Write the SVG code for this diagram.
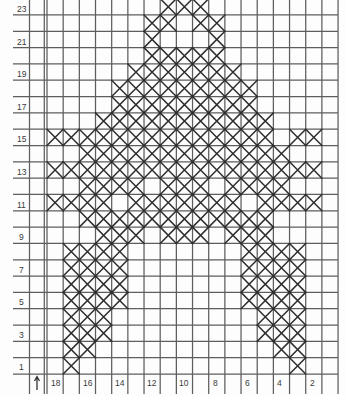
<svg xmlns="http://www.w3.org/2000/svg" xmlns:xlink="http://www.w3.org/1999/xlink" width="346" height="396" viewBox="0 0 346 396">
<style>
.g{stroke:#5e5e5e;stroke-width:1.25;fill:none}
.xs{stroke:#2e2e2e;stroke-width:1.5;fill:none;stroke-linecap:round}
.lab{font-family:"Liberation Sans",Arial,sans-serif;font-size:8.5px;fill:#3a3a3a}
</style>
<defs>
<path id="x" d="M0,0 L16.17,16.32 M16.17,0 L0,16.32"/>
</defs>
<rect width="346" height="396" fill="#fdfdfd"/>
<g id="grid" class="g">
<path d="M13,374H338 M13,357.68H338 M13,341.36H338 M13,325.04H338 M13,308.72H338 M13,292.4H338 M13,276.08H338 M13,259.76H338 M13,243.44H338 M13,227.12H338 M13,210.8H338 M13,194.48H338 M13,178.16H338 M13,161.84H338 M13,145.52H338 M13,129.2H338 M13,112.88H338 M13,96.56H338 M13,80.24H338 M13,63.92H338 M13,47.6H338 M13,31.28H338 M13,14.96H338"/>
<path d="M29.5,0V394 M44.3,0V394 M47,0V394 M63.17,0V394 M79.34,0V394 M95.51,0V394 M111.68,0V394 M127.85,0V394 M144.02,0V394 M160.19,0V394 M176.36,0V394 M192.53,0V394 M208.7,0V394 M224.87,0V394 M241.04,0V394 M257.21,0V394 M273.38,0V394 M289.55,0V394 M305.72,0V394 M321.89,0V394 M338.06,0V394"/>
</g>
<g id="row-labels" class="lab">
<text x="17" y="12">23</text>
<text x="17" y="45">21</text>
<text x="17" y="77">19</text>
<text x="17" y="110">17</text>
<text x="17" y="142">15</text>
<text x="17" y="175">13</text>
<text x="17" y="208">11</text>
<text x="19" y="240">9</text>
<text x="19" y="273">7</text>
<text x="19" y="305">5</text>
<text x="19" y="338">3</text>
<text x="19" y="370">1</text>
</g>
<g id="column-labels" class="lab">
<path d="M37,390V377 M34.5,381L37,376.5L39.5,381" stroke="#333" stroke-width="1.3" fill="none"/>
<text x="51" y="386">18</text>
<text x="83" y="386">16</text>
<text x="115" y="386">14</text>
<text x="147" y="386">12</text>
<text x="179" y="386">10</text>
<text x="213" y="386">8</text>
<text x="245" y="386">6</text>
<text x="277" y="386">4</text>
<text x="310" y="386">2</text>
</g>
<g id="stitches" class="xs">
<g id="row23"><use href="#x" x="160.19" y="-1.36"/><use href="#x" x="176.36" y="-1.36"/><use href="#x" x="192.53" y="-1.36"/></g>
<g id="row22"><use href="#x" x="144.02" y="14.96"/><use href="#x" x="160.19" y="14.96"/><use href="#x" x="192.53" y="14.96"/><use href="#x" x="208.7" y="14.96"/></g>
<g id="row21"><use href="#x" x="144.02" y="31.28"/><use href="#x" x="208.7" y="31.28"/></g>
<g id="row20"><use href="#x" x="144.02" y="47.6"/><use href="#x" x="160.19" y="47.6"/><use href="#x" x="176.36" y="47.6"/><use href="#x" x="192.53" y="47.6"/><use href="#x" x="208.7" y="47.6"/></g>
<g id="row19"><use href="#x" x="127.85" y="63.92"/><use href="#x" x="144.02" y="63.92"/><use href="#x" x="160.19" y="63.92"/><use href="#x" x="176.36" y="63.92"/><use href="#x" x="192.53" y="63.92"/><use href="#x" x="208.7" y="63.92"/><use href="#x" x="224.87" y="63.92"/></g>
<g id="row18"><use href="#x" x="111.68" y="80.24"/><use href="#x" x="127.85" y="80.24"/><use href="#x" x="144.02" y="80.24"/><use href="#x" x="160.19" y="80.24"/><use href="#x" x="176.36" y="80.24"/><use href="#x" x="192.53" y="80.24"/><use href="#x" x="208.7" y="80.24"/><use href="#x" x="224.87" y="80.24"/><use href="#x" x="241.04" y="80.24"/></g>
<g id="row17"><use href="#x" x="111.68" y="96.56"/><use href="#x" x="127.85" y="96.56"/><use href="#x" x="144.02" y="96.56"/><use href="#x" x="160.19" y="96.56"/><use href="#x" x="176.36" y="96.56"/><use href="#x" x="192.53" y="96.56"/><use href="#x" x="208.7" y="96.56"/><use href="#x" x="224.87" y="96.56"/><use href="#x" x="241.04" y="96.56"/></g>
<g id="row16"><use href="#x" x="95.51" y="112.88"/><use href="#x" x="111.68" y="112.88"/><use href="#x" x="127.85" y="112.88"/><use href="#x" x="144.02" y="112.88"/><use href="#x" x="160.19" y="112.88"/><use href="#x" x="176.36" y="112.88"/><use href="#x" x="192.53" y="112.88"/><use href="#x" x="208.7" y="112.88"/><use href="#x" x="224.87" y="112.88"/><use href="#x" x="241.04" y="112.88"/><use href="#x" x="257.21" y="112.88"/></g>
<g id="row15"><use href="#x" x="47" y="129.2"/><use href="#x" x="63.17" y="129.2"/><use href="#x" x="79.34" y="129.2"/><use href="#x" x="95.51" y="129.2"/><use href="#x" x="111.68" y="129.2"/><use href="#x" x="127.85" y="129.2"/><use href="#x" x="144.02" y="129.2"/><use href="#x" x="160.19" y="129.2"/><use href="#x" x="176.36" y="129.2"/><use href="#x" x="192.53" y="129.2"/><use href="#x" x="208.7" y="129.2"/><use href="#x" x="224.87" y="129.2"/><use href="#x" x="241.04" y="129.2"/><use href="#x" x="257.21" y="129.2"/><use href="#x" x="289.55" y="129.2"/><use href="#x" x="305.72" y="129.2"/></g>
<g id="row14"><use href="#x" x="79.34" y="145.52"/><use href="#x" x="95.51" y="145.52"/><use href="#x" x="111.68" y="145.52"/><use href="#x" x="127.85" y="145.52"/><use href="#x" x="144.02" y="145.52"/><use href="#x" x="160.19" y="145.52"/><use href="#x" x="176.36" y="145.52"/><use href="#x" x="192.53" y="145.52"/><use href="#x" x="208.7" y="145.52"/><use href="#x" x="224.87" y="145.52"/><use href="#x" x="241.04" y="145.52"/><use href="#x" x="257.21" y="145.52"/><use href="#x" x="273.38" y="145.52"/></g>
<g id="row13"><use href="#x" x="47" y="161.84"/><use href="#x" x="63.17" y="161.84"/><use href="#x" x="79.34" y="161.84"/><use href="#x" x="95.51" y="161.84"/><use href="#x" x="111.68" y="161.84"/><use href="#x" x="127.85" y="161.84"/><use href="#x" x="144.02" y="161.84"/><use href="#x" x="160.19" y="161.84"/><use href="#x" x="176.36" y="161.84"/><use href="#x" x="192.53" y="161.84"/><use href="#x" x="208.7" y="161.84"/><use href="#x" x="224.87" y="161.84"/><use href="#x" x="241.04" y="161.84"/><use href="#x" x="257.21" y="161.84"/><use href="#x" x="273.38" y="161.84"/><use href="#x" x="289.55" y="161.84"/><use href="#x" x="305.72" y="161.84"/></g>
<g id="row12"><use href="#x" x="79.34" y="178.16"/><use href="#x" x="95.51" y="178.16"/><use href="#x" x="111.68" y="178.16"/><use href="#x" x="127.85" y="178.16"/><use href="#x" x="160.19" y="178.16"/><use href="#x" x="176.36" y="178.16"/><use href="#x" x="192.53" y="178.16"/><use href="#x" x="224.87" y="178.16"/><use href="#x" x="241.04" y="178.16"/><use href="#x" x="257.21" y="178.16"/><use href="#x" x="273.38" y="178.16"/></g>
<g id="row11"><use href="#x" x="47" y="194.48"/><use href="#x" x="63.17" y="194.48"/><use href="#x" x="79.34" y="194.48"/><use href="#x" x="95.51" y="194.48"/><use href="#x" x="127.85" y="194.48"/><use href="#x" x="144.02" y="194.48"/><use href="#x" x="160.19" y="194.48"/><use href="#x" x="176.36" y="194.48"/><use href="#x" x="192.53" y="194.48"/><use href="#x" x="208.7" y="194.48"/><use href="#x" x="224.87" y="194.48"/><use href="#x" x="257.21" y="194.48"/><use href="#x" x="273.38" y="194.48"/><use href="#x" x="289.55" y="194.48"/><use href="#x" x="305.72" y="194.48"/></g>
<g id="row10"><use href="#x" x="79.34" y="210.8"/><use href="#x" x="95.51" y="210.8"/><use href="#x" x="111.68" y="210.8"/><use href="#x" x="127.85" y="210.8"/><use href="#x" x="144.02" y="210.8"/><use href="#x" x="160.19" y="210.8"/><use href="#x" x="176.36" y="210.8"/><use href="#x" x="192.53" y="210.8"/><use href="#x" x="208.7" y="210.8"/><use href="#x" x="224.87" y="210.8"/><use href="#x" x="241.04" y="210.8"/><use href="#x" x="257.21" y="210.8"/></g>
<g id="row9"><use href="#x" x="95.51" y="227.12"/><use href="#x" x="111.68" y="227.12"/><use href="#x" x="127.85" y="227.12"/><use href="#x" x="160.19" y="227.12"/><use href="#x" x="176.36" y="227.12"/><use href="#x" x="192.53" y="227.12"/><use href="#x" x="224.87" y="227.12"/><use href="#x" x="241.04" y="227.12"/><use href="#x" x="257.21" y="227.12"/></g>
<g id="row8"><use href="#x" x="63.17" y="243.44"/><use href="#x" x="79.34" y="243.44"/><use href="#x" x="95.51" y="243.44"/><use href="#x" x="111.68" y="243.44"/><use href="#x" x="241.04" y="243.44"/><use href="#x" x="257.21" y="243.44"/><use href="#x" x="273.38" y="243.44"/><use href="#x" x="289.55" y="243.44"/></g>
<g id="row7"><use href="#x" x="63.17" y="259.76"/><use href="#x" x="79.34" y="259.76"/><use href="#x" x="95.51" y="259.76"/><use href="#x" x="111.68" y="259.76"/><use href="#x" x="241.04" y="259.76"/><use href="#x" x="257.21" y="259.76"/><use href="#x" x="273.38" y="259.76"/><use href="#x" x="289.55" y="259.76"/></g>
<g id="row6"><use href="#x" x="63.17" y="276.08"/><use href="#x" x="79.34" y="276.08"/><use href="#x" x="95.51" y="276.08"/><use href="#x" x="111.68" y="276.08"/><use href="#x" x="241.04" y="276.08"/><use href="#x" x="257.21" y="276.08"/><use href="#x" x="273.38" y="276.08"/><use href="#x" x="289.55" y="276.08"/></g>
<g id="row5"><use href="#x" x="63.17" y="292.4"/><use href="#x" x="79.34" y="292.4"/><use href="#x" x="95.51" y="292.4"/><use href="#x" x="111.68" y="292.4"/><use href="#x" x="241.04" y="292.4"/><use href="#x" x="257.21" y="292.4"/><use href="#x" x="273.38" y="292.4"/><use href="#x" x="289.55" y="292.4"/></g>
<g id="row4"><use href="#x" x="63.17" y="308.72"/><use href="#x" x="79.34" y="308.72"/><use href="#x" x="95.51" y="308.72"/><use href="#x" x="257.21" y="308.72"/><use href="#x" x="273.38" y="308.72"/><use href="#x" x="289.55" y="308.72"/></g>
<g id="row3"><use href="#x" x="63.17" y="325.04"/><use href="#x" x="79.34" y="325.04"/><use href="#x" x="95.51" y="325.04"/><use href="#x" x="257.21" y="325.04"/><use href="#x" x="273.38" y="325.04"/><use href="#x" x="289.55" y="325.04"/></g>
<g id="row2"><use href="#x" x="63.17" y="341.36"/><use href="#x" x="79.34" y="341.36"/><use href="#x" x="273.38" y="341.36"/><use href="#x" x="289.55" y="341.36"/></g>
<g id="row1"><use href="#x" x="63.17" y="357.68"/><use href="#x" x="289.55" y="357.68"/></g>
</g>
</svg>
